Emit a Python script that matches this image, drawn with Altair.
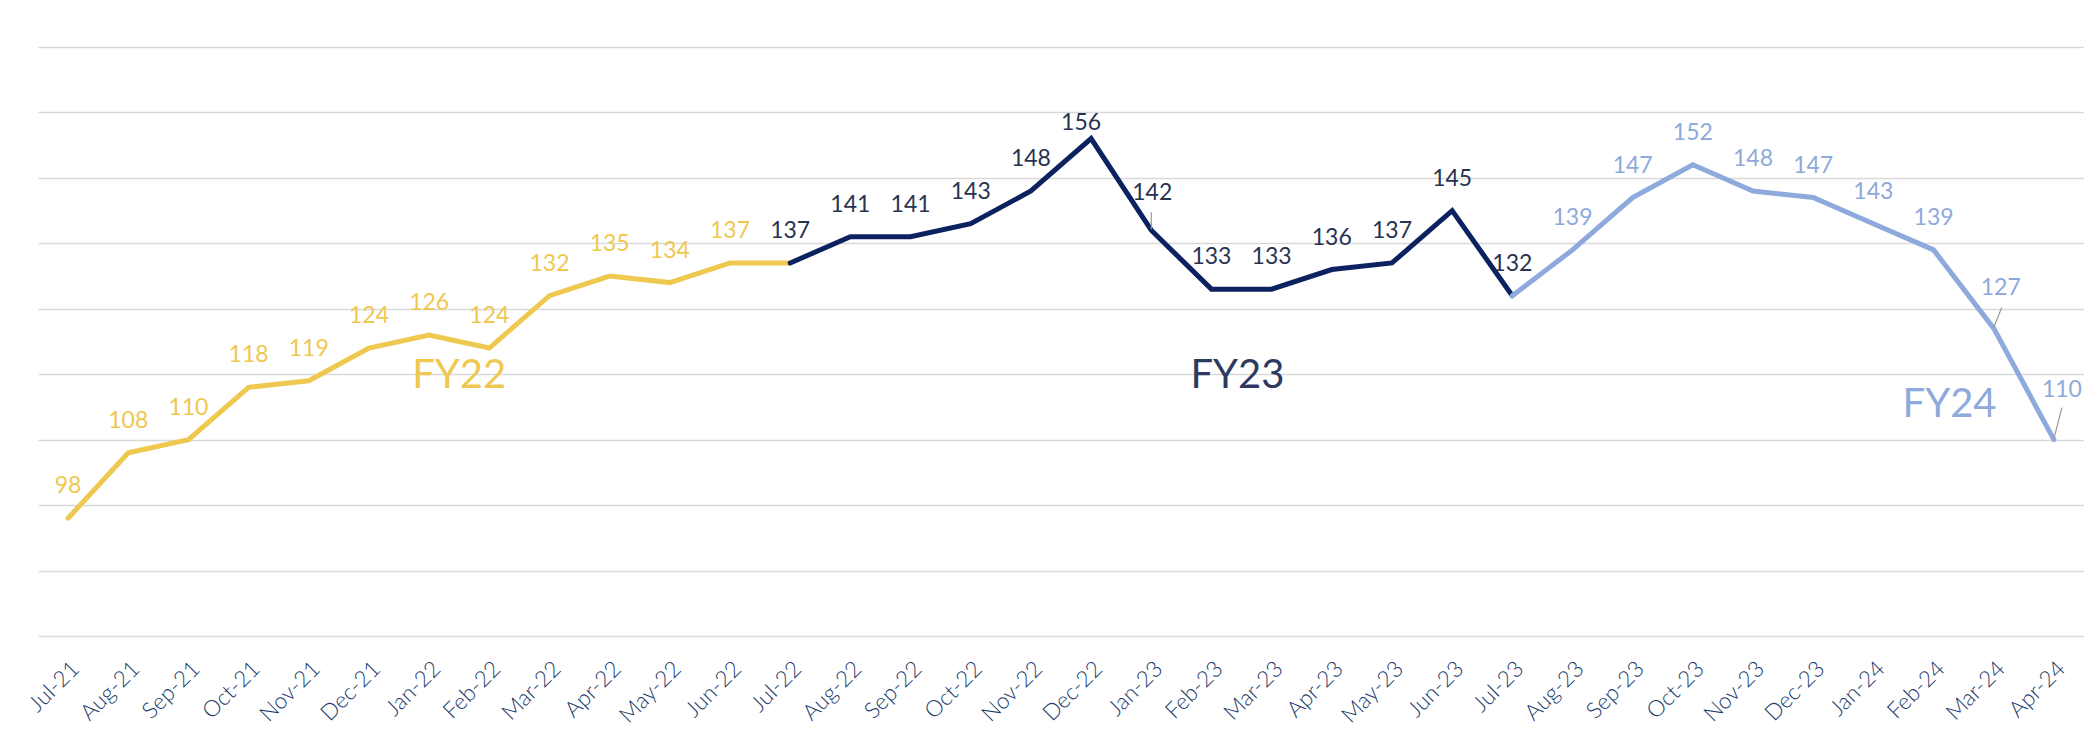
import altair as alt
import pandas as pd

months = ["Jul-21","Aug-21","Sep-21","Oct-21","Nov-21","Dec-21","Jan-22","Feb-22","Mar-22","Apr-22",
          "May-22","Jun-22","Jul-22","Aug-22","Sep-22","Oct-22","Nov-22","Dec-22","Jan-23","Feb-23",
          "Mar-23","Apr-23","May-23","Jun-23","Jul-23","Aug-23","Sep-23","Oct-23","Nov-23","Dec-23",
          "Jan-24","Feb-24","Mar-24","Apr-24"]
values = [98,108,110,118,119,124,126,124,132,135,134,137,137,141,141,143,148,156,142,133,
          133,136,137,145,132,139,147,152,148,147,143,139,127,110]
segments = {"FY22": (0, 12), "FY23": (12, 24), "FY24": (24, 33)}
label_fy = ["FY22"] * 12 + ["FY23"] * 13 + ["FY24"] * 9
fy_names = ["FY22", "FY23", "FY24"]

line_rows = []
for fy, (a, b) in segments.items():
    for i in range(a, b + 1):
        line_rows.append({"month": months[i], "value": values[i], "fy": fy, "idx": i})
line_df = pd.DataFrame(line_rows)
lab_df = pd.DataFrame({"month": months, "value": values, "fy": label_fy, "idx": range(len(months))})

special = ["Dec-22", "Jan-23", "Mar-24", "Apr-24"]

FONT = "Lato"
line_colors = ["#EEC84F", "#0C2260", "#8EA9DB"]
text_colors = ["#EEC84F", "#283350", "#8EA9DB"]

x = alt.X("month:N", sort=months, title=None,
          axis=alt.Axis(labelAngle=-45, labelFontSize=22.5, labelFont=FONT, labelFontWeight=300,
                        labelColor="#203A6B",
                        labelAlign="right", labelBaseline="top", labelPadding=21,
                        ticks=False, domain=False, grid=False, labelOverlap=False))
y = alt.Y("value:Q", title=None,
          scale=alt.Scale(domain=[80, 170], nice=False, zero=False),
          axis=alt.Axis(values=list(range(80, 171, 10)), labels=False, ticks=False, domain=False,
                        grid=True, gridColor="#D9D9D9", gridWidth=1.5))

lines = alt.Chart(line_df).mark_line(strokeWidth=5, strokeCap="round", strokeJoin="miter").encode(
    x=x, y=y,
    color=alt.Color("fy:N", scale=alt.Scale(domain=fy_names, range=line_colors), legend=None),
    order="idx:Q",
)

tcolor = alt.Color("fy:N", scale=alt.Scale(domain=fy_names, range=text_colors), legend=None)
lab_base = alt.Chart(lab_df).encode(x=alt.X("month:N", sort=months), y="value:Q",
                                    text="value:Q", color=tcolor)

normal = lab_base.transform_filter(
    alt.FieldOneOfPredicate(field="month", oneOf=special).__invert__()
).mark_text(font=FONT, fontSize=23, baseline="alphabetic", dy=-25)

def special_label(m, dx, dy):
    return lab_base.transform_filter(alt.datum.month == m).mark_text(
        font=FONT, fontSize=23, baseline="alphabetic", dx=dx, dy=dy)

sp = [special_label("Dec-22", -10, -9), special_label("Jan-23", 1, -30),
      special_label("Mar-24", 7, -33), special_label("Apr-24", 8, -43)]

lead_base = alt.Chart(lab_df).encode(x=alt.X("month:N", sort=months), x2="month:N",
                                     y="value:Q", y2="value:Q")

def leader(m, x2o, y2o):
    return lead_base.transform_filter(alt.datum.month == m).mark_rule(
        color="#9A9A9A", strokeWidth=1.2, yOffset=-1, y2Offset=y2o, x2Offset=x2o)

leaders = [leader("Jan-23", 0, -18), leader("Mar-24", 8, -21), leader("Apr-24", 8, -32)]

fy_df = pd.DataFrame({"fy": fy_names, "month": ["Jan-22", "Feb-23", "Feb-24"], "value": [117.9, 117.9, 113.4]})
def fy_text(name, dx):
    return alt.Chart(fy_df).transform_filter(alt.datum.fy == name).mark_text(
        font=FONT, fontSize=40, baseline="alphabetic", align="center", dx=dx,
        color=dict(zip(fy_names, ["#EEC84F", "#2B3A5E", "#8EA9DB"]))[name]
    ).encode(x=alt.X("month:N", sort=months), y="value:Q", text="fy:N")

fys = [fy_text("FY22", 30), fy_text("FY23", 26), fy_text("FY24", 16)]

chart = alt.layer(lines, normal, *sp, *leaders, *fys).resolve_scale(color="independent").properties(
    width=2046, height=589,
    padding={"left": 30, "top": 39, "right": 0, "bottom": 91},
    autosize=alt.AutoSizeParams(type="none"),
    background="white",
).configure_view(stroke=None)

chart.save("out.html", embed_options={"renderer": "svg", "actions": False})
